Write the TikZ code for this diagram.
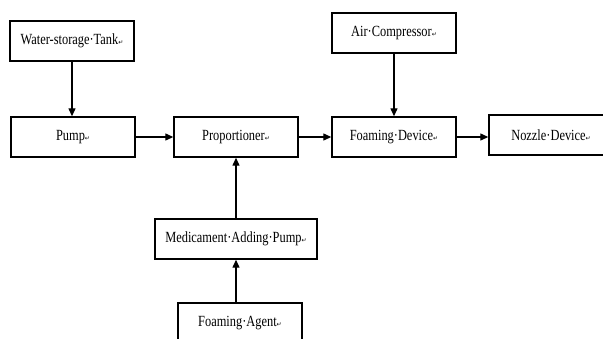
\documentclass[tikz,border=0pt]{standalone}
\usepackage{fontspec}
\setmainfont{Liberation Serif}[FakeStretch=0.8]
\newfontfamily\marksfont{DejaVu Sans}
\usetikzlibrary{arrows.meta}
\newcommand{\ret}{{\marksfont\fontsize{6}{6}\selectfont ↵}}
\newcommand{\wsp}{·}

\begin{document}
\begin{tikzpicture}[>={Triangle[length=8pt,width=7pt]}, line width=1.3pt, font=\fontsize{15.5}{16}\selectfont,
    block/.style={draw, line width=1.4pt, minimum width=124pt, minimum height=40pt, inner sep=0pt},]
    \useasboundingbox (-236pt,137pt) rectangle (367pt,-201pt);
    \clip (-236pt,137pt) rectangle (367pt,-201pt);
    \node[block] (prop) {Proportioner\ret};
    \node[block, left of=prop, node distance=163pt] (pump) {Pump\ret};
    \node[block, above of=pump, node distance=96pt, xshift=-1pt] (tank) {Water-storage\wsp Tank\ret};
    \node[block, right of=prop, node distance=158pt] (foam) {Foaming\wsp Device\ret};
    \node[block, above of=foam, node distance=104pt] (air) {Air\wsp Compressor\ret};
    \node[block, right of=foam, node distance=157pt, yshift=2pt] (nozzle) {Nozzle\wsp Device\ret};
    \node[block, below of=prop, node distance=102pt, minimum width=162pt] (med) {Medicament\wsp Adding\wsp Pump\ret};
    \node[block, below of=med, node distance=84pt, xshift=4pt] (agent) {Foaming\wsp Agent\ret};
    \draw[->] (tank.south) -- (tank.south |- pump.north);
    \draw[->] (pump) -- (prop);
    \draw[->] (prop) -- (foam);
    \draw[->] (air) -- (foam);
    \draw[->] (foam.east) -- (foam.east -| nozzle.west);
    \draw[->] (med) -- (prop);
    \draw[->] (agent.north -| med) -- (med.south);
  \end{tikzpicture}
\end{document}
